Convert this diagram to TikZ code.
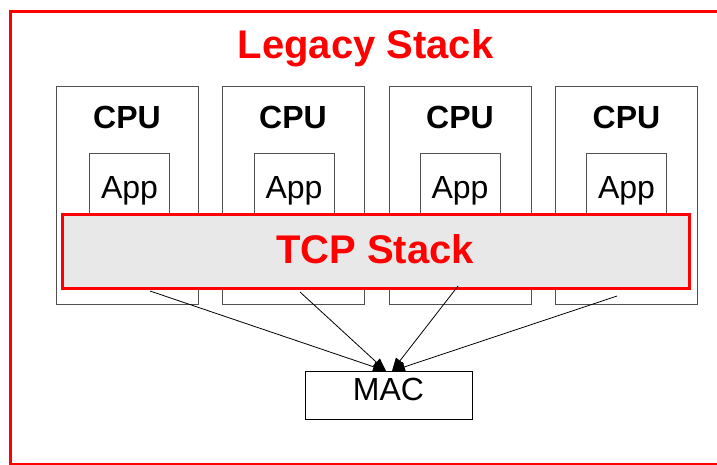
\documentclass[tikz,border=0pt]{standalone}
\usepackage{fontspec}
\setmainfont{Liberation Sans}
\usetikzlibrary{arrows.meta}
\definecolor{stackgray}{HTML}{E8E8E8}
\definecolor{boxline}{HTML}{505050}
\tikzset{
  bigred/.style={font=\fontsize{40}{48}\selectfont\bfseries, text=red, inner sep=0pt, anchor=base},
  cputext/.style={font=\fontsize{32}{38}\selectfont\bfseries, inner sep=0pt, anchor=base},
  plaintext/.style={font=\fontsize{32}{38}\selectfont, inner sep=0pt, anchor=base},
  cpubox/.style={draw=boxline, line width=0.8pt, minimum width=142pt, minimum height=218pt, inner sep=0pt},
  appbox/.style={draw=boxline, line width=0.8pt, fill=white, minimum width=80pt, minimum height=70pt, inner sep=0pt},
  tcpbox/.style={draw=red, line width=3pt, fill=stackgray, minimum width=627pt, minimum height=74pt, inner sep=0pt},
  macbox/.style={draw=black, line width=0.8pt, minimum width=167pt, minimum height=48pt, inner sep=0pt},
  link/.style={line width=0.8pt, -{Triangle[length=13pt,width=10pt]}}
}
\begin{document}
\begin{tikzpicture}[x=1pt,y=-1pt]
\useasboundingbox (0,0) rectangle (717,464);
\clip (0,0) rectangle (717,464);
% outer frame
\draw[red, line width=3pt] (10,11) rectangle (740,464);
\node[bigred] (title) at (365.5,58) {Legacy Stack};
% CPU boxes
\node[cpubox] (cpu1) at (127,195) {};
\node[cpubox] (cpu2) at (293,195) {};
\node[cpubox] (cpu3) at (460,195) {};
\node[cpubox] (cpu4) at (626.5,195) {};
\node[cputext] (cpuT1) at (127,128) {CPU};
\node[cputext] (cpuT2) at (293,128) {CPU};
\node[cputext] (cpuT3) at (460,128) {CPU};
\node[cputext] (cpuT4) at (626.5,128) {CPU};
% App boxes
\node[appbox] (app1) at (129.5,188) {};
\node[appbox] (app2) at (294,188) {};
\node[appbox] (app3) at (460,188) {};
\node[appbox] (app4) at (626.5,188) {};
\node[plaintext] (appT1) at (129.5,198) {App};
\node[plaintext] (appT2) at (294,198) {App};
\node[plaintext] (appT3) at (460,198) {App};
\node[plaintext] (appT4) at (626.5,198) {App};
% TCP stack
\node[tcpbox] (tcp) at (376,251.5) {};
\node[bigred] (tcpT) at (375,263) {TCP Stack};
% MAC
\node[macbox] (mac) at (389,395) {};
\node[plaintext] (macT) at (388.5,400) {MAC};
% connectors
\coordinate (s1) at (150,291);
\coordinate (s2) at (300,292);
\coordinate (s3) at (458,286);
\coordinate (s4) at (617,296);
\coordinate (t1) at (386,371);
\coordinate (t2) at (392,371);
\draw[link] (s1) -- (t1);
\draw[link] (s2) -- (t1);
\draw[link] (s3) -- (t2);
\draw[link] (s4) -- (t2);
\end{tikzpicture}
\end{document}
